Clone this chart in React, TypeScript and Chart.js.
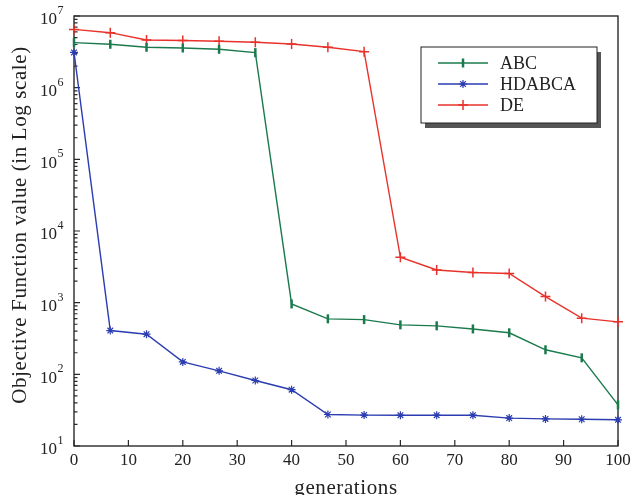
import React, { useEffect, useRef } from "react";
import { Chart, registerables } from "chart.js";

Chart.register(...registerables);

const generations = [0, 6.67, 13.33, 20, 26.67, 33.33, 40, 46.67, 53.33, 60, 66.67, 73.33, 80, 86.67, 93.33, 100];
const abcValues = [4.25e6, 4.03e6, 3.66e6, 3.58e6, 3.43e6, 3.08e6, 960, 595, 580, 490, 475, 430, 380, 220, 170, 37.5];
const hdabcaValues = [3.1e6, 408, 363, 149, 112, 82, 61, 27.5, 27, 26.9, 26.9, 26.9, 24.5, 23.9, 23.6, 23.2];
const deValues = [6.5e6, 5.85e6, 4.62e6, 4.55e6, 4.44e6, 4.3e6, 4.07e6, 3.66e6, 3.18e6, 4300, 2860, 2630, 2550, 1217, 608, 540];
const seriesNames = ["ABC", "HDABCA", "DE"];
const seriesColors = ["#1b7a4d", "#2b3db0", "#e8322b"];
const xTicks = [0, 10, 20, 30, 40, 50, 60, 70, 80, 90, 100];
const yExponents = [1, 2, 3, 4, 5, 6, 7];

const FONT = "'Liberation Serif', 'DejaVu Serif', serif";

function drawMarker(ctx: CanvasRenderingContext2D, kind: number, x: number, y: number, color: string) {
  ctx.save();
  ctx.strokeStyle = color;
  ctx.beginPath();
  if (kind === 0) {
    ctx.lineWidth = 2.5;
    ctx.moveTo(x, y - 4.5);
    ctx.lineTo(x, y + 4.5);
  } else if (kind === 1) {
    ctx.lineWidth = 1.2;
    const r = 4;
    ctx.moveTo(x, y - r); ctx.lineTo(x, y + r);
    ctx.moveTo(x - r, y); ctx.lineTo(x + r, y);
    const d = r * 0.707;
    ctx.moveTo(x - d, y - d); ctx.lineTo(x + d, y + d);
    ctx.moveTo(x - d, y + d); ctx.lineTo(x + d, y - d);
  } else {
    ctx.lineWidth = 1.5;
    const r = 5;
    ctx.moveTo(x, y - r); ctx.lineTo(x, y + r);
    ctx.moveTo(x - r, y); ctx.lineTo(x + r, y);
  }
  ctx.stroke();
  ctx.restore();
}

const decorPlugin = {
  id: "decor",
  beforeDatasetsDraw(chart: any) {
    const { ctx, chartArea } = chart;
    const xs = chart.scales.x;
    const ys = chart.scales.y;
    ctx.save();
    ctx.strokeStyle = "#2a2a2a";
    ctx.lineWidth = 1.4;
    ctx.strokeRect(chartArea.left, chartArea.top, chartArea.right - chartArea.left, chartArea.bottom - chartArea.top);
    ctx.lineWidth = 1.2;
    ctx.beginPath();
    for (const t of xTicks) {
      const px = xs.getPixelForValue(t);
      ctx.moveTo(px, chartArea.bottom);
      ctx.lineTo(px, chartArea.bottom - 6);
    }
    for (const e of yExponents) {
      const base = Math.pow(10, e);
      const py = ys.getPixelForValue(base);
      ctx.moveTo(chartArea.left, py);
      ctx.lineTo(chartArea.left + 6, py);
      if (e < 7) {
        for (let m = 2; m <= 9; m++) {
          const my = ys.getPixelForValue(m * base);
          ctx.moveTo(chartArea.left, my);
          ctx.lineTo(chartArea.left + 3.5, my);
        }
      }
    }
    ctx.stroke();

    ctx.fillStyle = "#222";
    for (const e of yExponents) {
      const py = ys.getPixelForValue(Math.pow(10, e));
      ctx.font = `17px ${FONT}`;
      ctx.textAlign = "right";
      ctx.textBaseline = "middle";
      ctx.fillText("10", 57, py + 4);
      ctx.font = `12px ${FONT}`;
      ctx.textAlign = "left";
      ctx.fillText(String(e), 57.5, py - 5);
    }
    ctx.font = `21px ${FONT}`;
    (ctx as any).letterSpacing = "0.6px";
    ctx.textAlign = "center";
    ctx.textBaseline = "middle";
    ctx.fillText("generations", (chartArea.left + chartArea.right) / 2, 488);
    ctx.translate(20, 225);
    ctx.rotate(-Math.PI / 2);
    ctx.fillText("Objective Function value (in Log scale)", 0, 0);
    (ctx as any).letterSpacing = "0px";
    ctx.restore();
  },
  afterDatasetsDraw(chart: any) {
    const { ctx } = chart;
    ctx.save();
    ctx.fillStyle = "#555";
    ctx.fillRect(425, 52, 176, 76);
    ctx.fillStyle = "#fff";
    ctx.fillRect(421, 47, 176, 76);
    ctx.strokeStyle = "#222";
    ctx.lineWidth = 1;
    ctx.strokeRect(421, 47, 176, 76);
    const rows = [63, 84, 105];
    for (let i = 0; i < 3; i++) {
      ctx.strokeStyle = seriesColors[i];
      ctx.lineWidth = 1.4;
      ctx.beginPath();
      ctx.moveTo(438, rows[i]);
      ctx.lineTo(488, rows[i]);
      ctx.stroke();
      drawMarker(ctx, i, 463, rows[i], seriesColors[i]);
      ctx.fillStyle = "#222";
      ctx.font = `18px ${FONT}`;
      ctx.textAlign = "left";
      ctx.textBaseline = "middle";
      ctx.fillText(seriesNames[i], 500, rows[i] + 1);
    }
    ctx.restore();
  },
};

export default function App() {
  const ref = useRef<HTMLCanvasElement>(null);
  useEffect(() => {
    const canvas = ref.current;
    if (!canvas) return;
    const mk = (vals: number[]) => generations.map((g, i) => ({ x: g, y: vals[i] }));
    const chart = new Chart(canvas, {
      type: "line",
      data: {
        datasets: [
          {
            label: seriesNames[0],
            data: mk(abcValues),
            borderColor: seriesColors[0],
            backgroundColor: seriesColors[0],
            borderWidth: 1.4,
            pointStyle: "line",
            rotation: 90,
            pointRadius: 4.5,
            pointBorderWidth: 2.5,
            pointBorderColor: seriesColors[0],
            clip: false,
          },
          {
            label: seriesNames[1],
            data: mk(hdabcaValues),
            borderColor: seriesColors[1],
            backgroundColor: seriesColors[1],
            borderWidth: 1.4,
            pointStyle: "star",
            pointRadius: 4,
            pointBorderWidth: 1.2,
            pointBorderColor: seriesColors[1],
            clip: false,
          },
          {
            label: seriesNames[2],
            data: mk(deValues),
            borderColor: seriesColors[2],
            backgroundColor: seriesColors[2],
            borderWidth: 1.4,
            pointStyle: "cross",
            pointRadius: 5,
            pointBorderWidth: 1.5,
            pointBorderColor: seriesColors[2],
            clip: false,
          },
        ] as any,
      },
      options: {
        animation: false,
        responsive: false,
        maintainAspectRatio: false,
        layout: { padding: { top: 16, right: 14, left: 0, bottom: 0 } },
        plugins: { legend: { display: false }, tooltip: { enabled: false } },
        elements: { line: { tension: 0 } },
        scales: {
          x: {
            type: "linear",
            min: 0,
            max: 100,
            grid: { display: false },
            border: { display: false },
            afterBuildTicks: (s: any) => {
              s.ticks = xTicks.map((v) => ({ value: v }));
            },
            afterFit: (s: any) => {
              s.height = 49;
            },
            ticks: {
              autoSkip: false,
              maxRotation: 0,
              padding: -4,
              color: "#222",
              font: { family: FONT, size: 17 },
            },
          },
          y: {
            type: "logarithmic",
            min: 10,
            max: 1e7,
            grid: { display: false },
            border: { display: false },
            ticks: { display: false },
            afterFit: (s: any) => {
              s.width = 74;
            },
          },
        },
      } as any,
      plugins: [decorPlugin],
    });
    return () => chart.destroy();
  }, []);
  return (
    <div style={{ position: "fixed", left: 0, top: 0, width: 632, height: 495, background: "#fff" }}>
      <canvas ref={ref} width={632} height={495} style={{ display: "block" }} />
    </div>
  );
}
